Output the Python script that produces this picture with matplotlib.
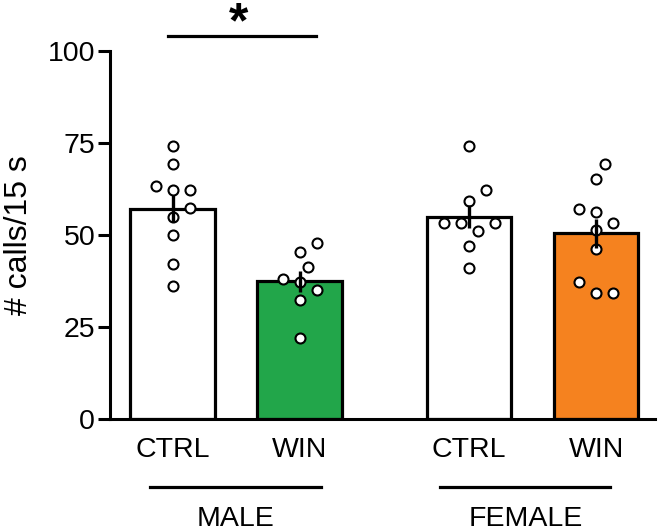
import numpy as np
import matplotlib
matplotlib.use("Agg")
import matplotlib.pyplot as plt
import matplotlib.transforms as mtransforms

plt.rcParams['font.family'] = ['Liberation Sans', 'DejaVu Sans']

# data
conditions = ['CTRL', 'WIN', 'CTRL', 'WIN']
groups = ['MALE', 'FEMALE']
male_ctrl = [74.3, 69.3, 63.2, 62.2, 62.2, 57.2, 55.0, 50.0, 42.1, 36.2]
male_win = [47.9, 45.3, 41.2, 38.0, 37.1, 35.0, 32.3, 22.1]
female_ctrl = [74.3, 62.2, 59.3, 53.2, 53.2, 53.2, 51.2, 47.1, 41.1]
female_win = [69.2, 65.2, 57.1, 56.3, 53.2, 51.4, 46.2, 37.1, 34.2, 34.2]
yticks = [0, 25, 50, 75, 100]

series = [male_ctrl, male_win, female_ctrl, female_win]
fill_colors = ['white', '#22A64A', 'white', '#F5821F']
xpos = np.array([0, 1, 2.333, 3.333])
bar_width = 0.665

fig = plt.figure(figsize=(6.66, 5.32), dpi=100)
ax = fig.add_axes([0.165, 0.2124, 0.818, 0.6918])
ax.set_xlim(-0.494, 3.794)
ax.set_ylim(0, 100)


def swarm(values, ax, x0, min_dist=15.5, step=8.5):
    # simple beeswarm in pixel space
    px_per_x = ax.transData.transform((1, 0))[0] - ax.transData.transform((0, 0))[0]
    px_per_y = ax.transData.transform((0, 1))[1] - ax.transData.transform((0, 0))[1]
    order = np.argsort(values)
    placed = []
    offs = np.zeros(len(values))
    for i in order:
        y = values[i] * px_per_y
        for k in range(0, 20):
            cands = [0] if k == 0 else [k * step, -k * step]
            ok = None
            for c in cands:
                if all(np.hypot(c - px, y - py) >= min_dist for px, py in placed):
                    ok = c
                    break
            if ok is not None:
                break
        placed.append((ok, y))
        offs[i] = ok / px_per_x
    return x0 + offs


for x, vals, col in zip(xpos, series, fill_colors):
    vals = np.array(vals)
    m = vals.mean()
    sem = vals.std(ddof=1) / np.sqrt(len(vals))
    ax.bar(x, m, width=bar_width, color=col, edgecolor='black', linewidth=2.3, zorder=1)
    xs = swarm(vals, ax, x)
    ax.plot(xs, vals, 'o', ms=7.2, mfc='white', mec='black', mew=1.5, zorder=3,
            clip_on=False)
    ax.plot([x, x], [m - sem, m + sem], color='black', lw=2.4, zorder=4,
            solid_capstyle='butt')

ax.spines['top'].set_visible(False)
ax.spines['right'].set_visible(False)
ax.spines['left'].set_linewidth(2.2)
ax.spines['bottom'].set_linewidth(2.2)
ax.spines['left'].set_bounds(0, 100)
ax.set_yticks(yticks)
ax.tick_params(axis='y', length=8.6, width=2.2, labelsize=20.5, pad=2)
ax.set_xticks(xpos)
ax.set_xticklabels(conditions)
ax.tick_params(axis='x', length=0, labelsize=20.5, pad=13)
ax.set_ylabel('# calls/15 s', fontsize=23, labelpad=10)

# group lines and labels under the axis
trans = mtransforms.blended_transform_factory(ax.transData, ax.transAxes)
for (x1, x2), name in zip([(-0.18, 1.166), (2.108, 3.445)], groups):
    ax.plot([x1, x2], [-0.185, -0.185], color='black', lw=2.3, transform=trans,
            clip_on=False)
    ax.text((x1 + x2) / 2, -0.272, name, transform=trans, ha='center', va='center',
            fontsize=20.5)

# significance bar
ax.plot([-0.038, 1.132], [104.1, 104.1], color='black', lw=2.3, clip_on=False)
ax.text(0.52, 103.8, '*', ha='center', va='baseline', fontsize=36, fontweight='bold')

fig.savefig('out.png', dpi=100)
